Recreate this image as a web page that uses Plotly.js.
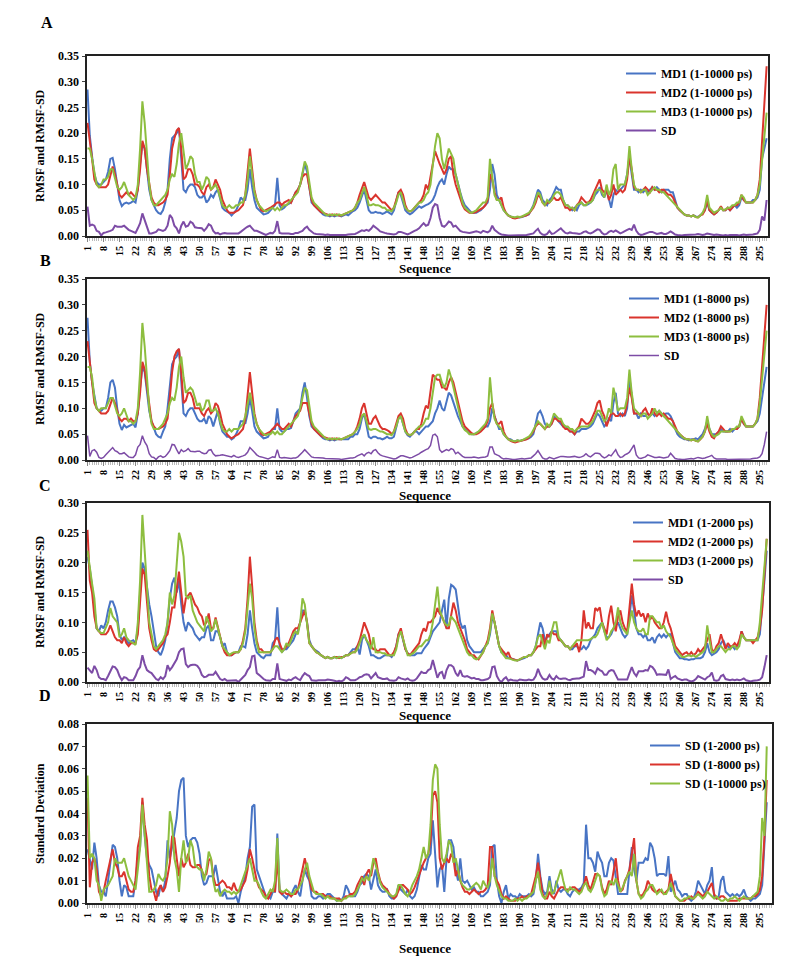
<!DOCTYPE html>
<html><head><meta charset="utf-8">
<script src="https://cdn.plot.ly/plotly-3.0.1.min.js"></script>
<style>html,body{margin:0;padding:0;background:#fff}#chart{width:800px;height:961px}</style>
</head><body><div id="chart"></div>
<script>
const tickLabels = [1,8,15,22,29,36,43,50,57,64,71,78,85,92,99,106,113,120,127,134,141,148,155,162,169,176,183,190,197,204,211,218,225,232,239,246,253,260,267,274,281,288,295];
const residues = Array.from({length:298},(_,i)=>i+1);

// ---------- Panel A (1-10000 ps) ----------
const A_MD1 = [
.285,.195,.155,.12,.105,.10,.10,.105,.11,.125,
.15,.152,.13,.10,.07,.058,.063,.065,.063,.065,
.068,.065,.09,.14,.18,.17,.13,.09,.07,.06,
.05,.045,.043,.05,.065,.09,.15,.19,.195,.20,
.21,.15,.09,.085,.095,.10,.10,.095,.08,.075,
.075,.08,.065,.07,.08,.075,.085,.09,.07,.055,
.05,.048,.045,.04,.045,.05,.06,.075,.07,.07,
.09,.13,.095,.07,.055,.05,.045,.042,.043,.045,
.05,.055,.06,.113,.06,.052,.055,.06,.062,.065,
.075,.085,.09,.10,.12,.14,.125,.09,.065,.06,
.055,.05,.045,.042,.04,.04,.038,.04,.038,.04,
.04,.038,.04,.042,.04,.045,.048,.05,.055,.065,
.08,.09,.07,.05,.045,.045,.047,.045,.045,.043,
.045,.048,.045,.042,.05,.065,.085,.08,.065,.05,
.045,.042,.045,.05,.055,.058,.055,.058,.06,.062,
.065,.07,.08,.095,.105,.11,.10,.12,.135,.13,
.13,.12,.10,.085,.07,.06,.055,.05,.045,.045,
.045,.048,.05,.055,.06,.065,.09,.14,.12,.08,
.07,.06,.05,.045,.04,.038,.036,.035,.037,.036,
.037,.038,.04,.042,.05,.06,.075,.09,.085,.07,
.065,.06,.07,.075,.085,.095,.09,.09,.07,.06,
.06,.055,.05,.055,.05,.06,.065,.06,.06,.062,
.065,.07,.08,.085,.095,.08,.075,.09,.07,.055,
.08,.09,.085,.09,.095,.10,.12,.155,.12,.09,
.09,.085,.09,.085,.09,.085,.09,.095,.09,.095,
.09,.085,.09,.09,.09,.085,.085,.07,.055,.05,
.045,.042,.04,.04,.038,.04,.038,.037,.04,.045,
.05,.065,.05,.045,.042,.045,.05,.055,.05,.05,
.055,.05,.055,.06,.055,.06,.075,.07,.065,.065,
.065,.07,.07,.075,.09,.15,.17,.19];
const A_MD2 = [
.22,.19,.15,.11,.10,.095,.095,.095,.095,.10,
.12,.135,.12,.10,.08,.075,.08,.085,.08,.085,
.08,.075,.09,.13,.185,.17,.13,.10,.075,.065,
.06,.06,.063,.065,.07,.08,.12,.17,.19,.205,
.21,.17,.11,.115,.13,.13,.12,.10,.10,.095,
.085,.08,.095,.10,.09,.095,.11,.10,.09,.07,
.06,.05,.045,.045,.045,.048,.05,.055,.06,.08,
.12,.17,.13,.09,.07,.06,.05,.048,.05,.052,
.055,.058,.062,.065,.065,.06,.065,.068,.07,.065,
.075,.085,.09,.10,.115,.12,.12,.09,.07,.06,
.055,.05,.047,.045,.043,.042,.04,.042,.04,.042,
.04,.04,.042,.043,.045,.048,.05,.055,.065,.08,
.095,.105,.09,.075,.07,.075,.08,.075,.07,.065,
.065,.06,.055,.05,.055,.07,.085,.09,.08,.06,
.05,.048,.05,.055,.06,.065,.07,.08,.10,.09,
.12,.14,.165,.15,.14,.13,.12,.13,.15,.155,
.12,.10,.085,.07,.06,.052,.048,.045,.045,.045,
.047,.05,.052,.055,.06,.07,.12,.11,.085,.07,
.07,.075,.055,.045,.04,.037,.035,.034,.035,.036,
.037,.038,.04,.043,.048,.055,.065,.08,.075,.065,
.06,.065,.065,.07,.075,.07,.07,.075,.065,.055,
.055,.05,.055,.05,.06,.065,.075,.07,.065,.065,
.07,.08,.09,.10,.11,.09,.085,.09,.07,.08,
.10,.08,.085,.09,.085,.09,.11,.155,.13,.095,
.09,.09,.085,.09,.095,.09,.085,.095,.09,.09,
.085,.09,.09,.085,.08,.08,.075,.065,.055,.05,
.045,.042,.04,.04,.038,.04,.037,.036,.04,.042,
.05,.07,.05,.045,.042,.045,.05,.058,.05,.05,
.055,.05,.055,.06,.06,.065,.08,.07,.065,.065,
.065,.065,.07,.08,.11,.18,.25,.33];
const A_MD3 = [
.17,.17,.15,.12,.10,.095,.10,.11,.11,.115,
.13,.13,.115,.095,.09,.095,.105,.09,.08,.075,
.07,.075,.10,.17,.262,.22,.15,.10,.07,.06,
.06,.065,.07,.075,.08,.09,.11,.12,.115,.14,
.18,.20,.17,.13,.14,.155,.15,.12,.105,.105,
.09,.10,.115,.11,.09,.095,.10,.09,.075,.06,
.055,.055,.06,.055,.055,.06,.06,.065,.065,.08,
.11,.155,.12,.085,.07,.06,.055,.05,.048,.05,
.052,.055,.05,.055,.05,.055,.06,.06,.065,.07,
.075,.08,.085,.10,.12,.145,.135,.10,.075,.065,
.06,.055,.05,.045,.042,.04,.042,.04,.042,.04,
.042,.04,.042,.043,.045,.048,.05,.055,.065,.07,
.085,.095,.08,.06,.06,.062,.06,.06,.058,.055,
.055,.05,.05,.048,.055,.065,.08,.085,.07,.055,
.05,.048,.05,.055,.06,.065,.065,.07,.08,.085,
.10,.14,.175,.20,.19,.15,.13,.15,.17,.16,
.15,.12,.10,.08,.065,.055,.05,.047,.045,.048,
.05,.055,.06,.065,.065,.075,.15,.11,.08,.07,
.07,.06,.05,.045,.04,.038,.037,.036,.038,.037,
.038,.04,.042,.045,.05,.058,.07,.085,.08,.065,
.06,.07,.065,.07,.08,.085,.085,.08,.07,.06,
.06,.055,.055,.05,.06,.062,.065,.06,.06,.065,
.065,.07,.085,.09,.09,.085,.075,.10,.08,.09,
.13,.14,.09,.10,.10,.10,.12,.175,.13,.10,
.09,.09,.085,.09,.09,.08,.085,.09,.095,.09,
.09,.085,.085,.08,.075,.07,.065,.06,.055,.05,
.045,.042,.04,.04,.038,.04,.037,.036,.04,.045,
.055,.08,.055,.05,.045,.048,.05,.055,.05,.052,
.055,.055,.06,.06,.065,.065,.08,.075,.065,.065,
.065,.065,.07,.08,.10,.15,.20,.24];

// ---------- Panel B (1-8000 ps) ----------
const B_MD1 = [
.275,.19,.15,.12,.10,.095,.095,.10,.10,.12,
.15,.155,.14,.10,.07,.058,.068,.063,.065,.068,
.07,.063,.09,.14,.18,.17,.13,.095,.075,.06,
.05,.045,.043,.055,.065,.10,.15,.185,.195,.20,
.215,.15,.09,.085,.095,.10,.10,.09,.08,.075,
.075,.08,.07,.085,.08,.065,.08,.095,.07,.055,
.05,.045,.045,.04,.043,.05,.06,.075,.075,.07,
.09,.12,.095,.065,.055,.05,.045,.042,.043,.045,
.055,.06,.06,.10,.06,.055,.055,.06,.06,.062,
.075,.09,.095,.10,.13,.15,.12,.085,.065,.06,
.055,.05,.045,.042,.04,.04,.038,.04,.038,.04,
.04,.04,.04,.04,.04,.045,.045,.05,.05,.06,
.08,.09,.07,.045,.042,.045,.045,.042,.042,.04,
.042,.045,.042,.042,.045,.06,.08,.085,.07,.055,
.048,.045,.05,.055,.055,.05,.055,.06,.065,.065,
.07,.075,.09,.10,.115,.10,.095,.115,.13,.125,
.11,.095,.085,.075,.065,.06,.055,.052,.05,.05,
.052,.055,.058,.06,.065,.065,.075,.10,.085,.07,
.06,.06,.05,.045,.04,.04,.037,.036,.038,.037,
.038,.04,.04,.042,.045,.05,.07,.09,.095,.085,
.07,.065,.065,.07,.085,.08,.075,.07,.065,.065,
.06,.055,.055,.05,.055,.055,.06,.06,.06,.062,
.065,.07,.08,.09,.085,.075,.065,.07,.08,.075,
.11,.13,.09,.085,.09,.085,.10,.16,.12,.09,
.09,.08,.09,.085,.085,.09,.085,.09,.085,.09,
.095,.09,.085,.09,.09,.085,.075,.06,.05,.045,
.042,.04,.04,.038,.04,.04,.042,.04,.045,.05,
.06,.075,.06,.05,.05,.05,.055,.06,.055,.055,
.055,.06,.055,.06,.06,.065,.08,.07,.065,.065,
.065,.065,.07,.075,.09,.12,.15,.18];
const B_MD2 = [
.23,.19,.15,.11,.10,.095,.09,.09,.09,.095,
.11,.12,.11,.095,.08,.075,.08,.08,.075,.08,
.075,.075,.09,.13,.19,.175,.14,.10,.075,.065,
.06,.06,.062,.065,.07,.08,.12,.17,.20,.21,
.215,.17,.11,.115,.13,.13,.12,.10,.10,.10,
.09,.085,.095,.10,.09,.095,.11,.105,.09,.07,
.06,.05,.045,.042,.045,.048,.05,.055,.06,.08,
.12,.17,.13,.09,.07,.06,.05,.048,.05,.052,
.055,.06,.065,.07,.065,.06,.06,.065,.07,.065,
.075,.085,.09,.095,.11,.11,.11,.09,.07,.06,
.055,.05,.047,.045,.043,.042,.04,.042,.04,.042,
.04,.04,.042,.043,.045,.048,.05,.055,.065,.08,
.10,.11,.09,.07,.07,.08,.085,.075,.065,.06,
.06,.058,.055,.05,.055,.07,.085,.09,.08,.06,
.05,.048,.05,.055,.06,.06,.07,.09,.105,.10,
.13,.165,.16,.155,.155,.14,.14,.135,.15,.16,
.15,.13,.11,.09,.075,.065,.06,.055,.052,.05,
.05,.052,.055,.06,.065,.075,.10,.11,.085,.07,
.07,.075,.055,.045,.04,.037,.035,.034,.035,.036,
.037,.038,.04,.043,.048,.055,.065,.07,.07,.065,
.06,.065,.065,.07,.08,.08,.075,.075,.065,.06,
.06,.055,.055,.05,.06,.065,.08,.075,.07,.07,
.075,.085,.095,.11,.115,.095,.085,.065,.08,.09,
.09,.085,.085,.09,.085,.09,.11,.14,.12,.09,
.09,.09,.085,.095,.10,.09,.085,.10,.09,.085,
.09,.085,.09,.085,.08,.08,.075,.065,.055,.05,
.045,.042,.04,.04,.038,.04,.037,.036,.04,.045,
.055,.07,.055,.045,.042,.05,.055,.065,.06,.055,
.055,.055,.06,.06,.06,.065,.08,.07,.065,.065,
.065,.065,.07,.08,.12,.18,.24,.30];
const B_MD3 = [
.18,.18,.16,.12,.10,.095,.10,.10,.10,.11,
.12,.12,.105,.09,.085,.09,.10,.085,.075,.075,
.07,.075,.10,.17,.265,.22,.15,.10,.07,.06,
.06,.06,.065,.07,.08,.09,.11,.12,.115,.14,
.18,.20,.16,.13,.135,.14,.135,.12,.105,.11,
.095,.10,.115,.115,.095,.095,.10,.09,.075,.06,
.055,.055,.06,.055,.06,.06,.06,.065,.07,.085,
.11,.13,.11,.085,.07,.06,.055,.05,.048,.05,
.05,.055,.05,.055,.05,.05,.055,.06,.065,.07,
.075,.08,.085,.10,.12,.14,.135,.10,.075,.065,
.06,.055,.05,.045,.042,.04,.042,.04,.042,.04,
.042,.04,.042,.043,.045,.048,.05,.055,.06,.07,
.085,.09,.075,.06,.058,.06,.06,.058,.055,.055,
.052,.05,.05,.048,.055,.065,.08,.085,.07,.055,
.05,.048,.05,.055,.06,.065,.065,.07,.08,.08,
.10,.13,.16,.165,.165,.15,.14,.15,.175,.16,
.14,.12,.10,.08,.065,.058,.055,.05,.05,.05,
.052,.055,.06,.065,.07,.08,.16,.11,.08,.07,
.065,.06,.05,.045,.04,.038,.037,.036,.038,.037,
.038,.04,.042,.045,.05,.058,.065,.075,.07,.065,
.06,.07,.065,.075,.09,.085,.08,.08,.07,.065,
.065,.06,.06,.055,.06,.062,.065,.065,.065,.065,
.07,.075,.085,.095,.095,.085,.075,.08,.10,.09,
.14,.12,.095,.10,.10,.10,.12,.175,.13,.10,
.095,.09,.085,.09,.09,.08,.085,.09,.10,.09,
.095,.09,.085,.08,.075,.07,.065,.06,.055,.05,
.045,.042,.04,.04,.038,.04,.037,.036,.04,.045,
.055,.085,.06,.05,.045,.048,.05,.055,.055,.055,
.055,.055,.06,.06,.065,.065,.085,.075,.065,.065,
.065,.065,.07,.08,.11,.16,.21,.25];

// ---------- Panel C (1-2000 ps) ----------
const C_MD1 = [
.21,.19,.16,.12,.09,.085,.095,.09,.10,.12,
.135,.135,.125,.11,.08,.07,.075,.07,.065,.068,
.07,.065,.09,.15,.20,.19,.16,.13,.11,.08,
.06,.05,.045,.055,.07,.10,.14,.165,.175,.15,
.17,.13,.10,.085,.10,.095,.09,.08,.075,.07,
.075,.075,.09,.095,.07,.07,.085,.085,.075,.06,
.065,.05,.045,.045,.048,.05,.05,.06,.06,.058,
.08,.12,.09,.065,.05,.045,.042,.04,.045,.045,
.045,.065,.07,.125,.06,.05,.055,.055,.06,.065,
.07,.08,.085,.10,.12,.12,.10,.07,.06,.055,
.052,.05,.045,.042,.04,.042,.04,.04,.042,.04,
.042,.04,.042,.045,.045,.05,.055,.055,.06,.046,
.07,.08,.07,.06,.045,.045,.042,.04,.04,.042,
.045,.045,.045,.042,.048,.06,.08,.085,.07,.055,
.048,.045,.045,.045,.048,.048,.048,.055,.06,.065,
.075,.085,.09,.095,.10,.12,.138,.09,.14,.163,
.16,.155,.13,.10,.09,.095,.07,.06,.055,.05,
.05,.05,.05,.055,.06,.065,.08,.11,.10,.08,
.06,.05,.05,.045,.04,.04,.038,.037,.036,.037,
.038,.04,.042,.045,.045,.05,.06,.08,.10,.09,
.07,.075,.08,.085,.085,.085,.075,.07,.065,.06,
.06,.055,.055,.06,.06,.055,.055,.06,.055,.06,
.07,.075,.08,.09,.095,.10,.085,.075,.075,.08,
.09,.095,.10,.09,.08,.075,.08,.11,.145,.12,
.09,.08,.08,.075,.08,.07,.07,.075,.065,.075,
.08,.075,.08,.075,.08,.08,.065,.05,.045,.04,
.04,.038,.038,.037,.038,.038,.04,.04,.04,.042,
.05,.065,.05,.045,.048,.05,.055,.065,.07,.06,
.06,.055,.06,.055,.06,.065,.085,.075,.07,.07,
.07,.07,.07,.07,.08,.12,.17,.22];
const C_MD2 = [
.255,.17,.15,.11,.09,.085,.08,.08,.08,.085,
.095,.085,.075,.07,.07,.065,.075,.065,.06,.065,
.065,.065,.08,.13,.19,.18,.13,.09,.07,.055,
.052,.055,.06,.065,.075,.08,.10,.125,.125,.16,
.185,.15,.115,.14,.145,.15,.14,.13,.125,.115,
.11,.095,.10,.115,.09,.09,.108,.09,.075,.06,
.05,.045,.045,.045,.048,.05,.05,.055,.07,.09,
.14,.21,.16,.10,.07,.055,.055,.05,.05,.05,
.05,.055,.07,.075,.065,.055,.055,.06,.065,.075,
.085,.09,.09,.10,.11,.12,.10,.065,.06,.055,
.05,.048,.045,.042,.04,.042,.04,.04,.042,.042,
.04,.042,.042,.045,.045,.048,.05,.05,.06,.07,
.085,.10,.09,.08,.06,.055,.055,.05,.055,.055,
.055,.05,.045,.045,.05,.06,.08,.09,.075,.055,
.048,.045,.05,.055,.06,.065,.08,.09,.085,.10,
.10,.105,.11,.124,.115,.11,.10,.09,.09,.11,
.133,.12,.10,.09,.08,.07,.055,.05,.045,.045,
.04,.038,.045,.05,.06,.07,.09,.12,.10,.08,
.06,.055,.05,.045,.05,.04,.038,.037,.036,.038,
.04,.042,.042,.045,.045,.05,.055,.06,.06,.08,
.06,.08,.075,.085,.08,.08,.07,.07,.065,.06,
.06,.055,.06,.06,.065,.05,.07,.12,.09,.10,
.09,.09,.124,.12,.125,.10,.09,.08,.11,.128,
.10,.085,.11,.12,.10,.09,.085,.12,.165,.13,
.11,.12,.11,.115,.10,.115,.105,.11,.10,.095,
.09,.09,.10,.118,.10,.09,.075,.06,.055,.05,
.045,.048,.05,.045,.05,.045,.048,.055,.05,.055,
.06,.07,.08,.055,.05,.06,.065,.08,.065,.055,
.065,.06,.06,.065,.06,.07,.085,.075,.07,.07,
.07,.065,.07,.075,.09,.12,.18,.24];
const C_MD3 = [
.22,.19,.165,.14,.09,.085,.082,.082,.09,.10,
.124,.11,.105,.10,.075,.08,.09,.075,.07,.068,
.065,.062,.10,.17,.28,.22,.15,.10,.08,.06,
.055,.06,.065,.07,.08,.10,.15,.13,.145,.20,
.25,.235,.21,.145,.14,.145,.12,.11,.10,.095,
.09,.085,.11,.10,.085,.09,.105,.09,.075,.06,
.055,.05,.045,.048,.05,.05,.05,.055,.065,.085,
.12,.165,.14,.09,.065,.05,.05,.05,.05,.05,
.05,.055,.06,.06,.055,.05,.055,.065,.06,.07,
.08,.085,.08,.10,.14,.13,.10,.065,.06,.055,
.05,.048,.045,.042,.04,.042,.04,.04,.042,.04,
.042,.04,.042,.045,.045,.048,.05,.05,.055,.065,
.075,.08,.07,.065,.055,.075,.05,.05,.05,.048,
.048,.045,.045,.045,.045,.055,.075,.085,.07,.055,
.045,.045,.048,.05,.055,.06,.06,.065,.07,.07,
.08,.10,.13,.16,.12,.11,.10,.095,.095,.11,
.105,.10,.09,.08,.07,.06,.05,.045,.045,.04,
.038,.04,.045,.05,.06,.065,.085,.115,.10,.08,
.06,.05,.045,.04,.04,.038,.037,.036,.036,.038,
.04,.042,.042,.045,.045,.05,.06,.075,.08,.065,
.055,.07,.065,.085,.10,.10,.075,.07,.065,.06,
.06,.055,.06,.065,.07,.07,.07,.07,.07,.07,
.072,.075,.075,.08,.09,.10,.085,.07,.075,.085,
.09,.10,.125,.10,.09,.085,.08,.10,.12,.10,
.09,.085,.085,.09,.08,.08,.11,.11,.105,.10,
.10,.09,.095,.085,.08,.075,.065,.055,.05,.045,
.042,.042,.044,.045,.043,.045,.042,.045,.048,.05,
.055,.095,.07,.05,.05,.055,.06,.06,.055,.05,
.055,.055,.06,.06,.055,.06,.08,.075,.07,.07,
.07,.07,.07,.07,.10,.15,.20,.24];

// ---------- Standard deviations (shared by SD lines in A-C and panel D) ----------
const SD_10000 = [
.057,.020,.022,.020,.010,.008,.001,.006,.007,.008,
.010,.012,.020,.018,.018,.018,.020,.016,.012,.010,
.008,.006,.015,.025,.044,.030,.020,.005,.005,.006,
.008,.013,.011,.010,.012,.020,.041,.035,.020,.015,
.005,.020,.028,.018,.020,.028,.025,.017,.016,.015,
.015,.010,.015,.023,.020,.010,.005,.006,.003,.005,
.006,.005,.005,.004,.005,.004,.005,.008,.012,.015,
.018,.020,.015,.010,.010,.008,.005,.003,.002,.004,
.006,.005,.010,.029,.006,.005,.005,.006,.005,.004,
.004,.006,.006,.008,.010,.015,.018,.012,.008,.005,
.004,.004,.004,.003,.002,.003,.002,.002,.002,.001,
.001,.001,.002,.002,.003,.003,.003,.004,.006,.008,
.011,.010,.012,.010,.014,.020,.017,.013,.009,.007,
.006,.005,.004,.003,.003,.004,.008,.008,.006,.004,
.003,.005,.008,.010,.012,.015,.020,.025,.020,.022,
.035,.055,.062,.060,.035,.020,.018,.022,.028,.026,
.018,.020,.015,.010,.008,.007,.006,.006,.007,.008,
.009,.008,.006,.010,.008,.007,.010,.020,.012,.008,
.005,.003,.002,.002,.001,.001,.001,.002,.001,.002,
.001,.002,.002,.003,.004,.005,.010,.014,.006,.003,
.002,.004,.010,.004,.005,.008,.012,.015,.010,.006,
.005,.007,.006,.006,.005,.004,.005,.008,.009,.006,
.005,.007,.010,.013,.012,.006,.003,.004,.008,.010,
.008,.011,.008,.005,.007,.010,.012,.014,.012,.022,
.010,.004,.002,.003,.005,.006,.008,.008,.006,.004,
.005,.006,.004,.004,.006,.009,.006,.003,.002,.001,
.001,.002,.002,.003,.002,.002,.003,.004,.003,.002,
.003,.005,.004,.003,.002,.003,.002,.001,.001,.002,
.001,.002,.002,.003,.002,.001,.002,.003,.002,.002,
.002,.003,.004,.005,.012,.038,.030,.070];
const SD_8000 = [
.047,.007,.018,.020,.015,.005,.003,.005,.010,.015,
.020,.024,.018,.016,.012,.012,.014,.010,.006,.005,
.005,.010,.025,.030,.047,.035,.028,.012,.006,.005,
.001,.006,.008,.005,.007,.012,.018,.030,.029,.020,
.012,.020,.016,.018,.022,.017,.016,.016,.017,.017,
.014,.012,.013,.019,.020,.012,.008,.008,.009,.010,
.009,.007,.007,.006,.009,.006,.005,.006,.008,.010,
.015,.024,.020,.015,.010,.007,.006,.005,.003,.002,
.004,.006,.005,.020,.005,.004,.005,.004,.004,.003,
.004,.004,.006,.010,.015,.020,.015,.010,.006,.005,
.005,.004,.004,.004,.003,.003,.003,.002,.002,.002,
.002,.001,.002,.003,.003,.004,.004,.005,.008,.010,
.012,.008,.013,.015,.012,.018,.020,.014,.010,.008,
.007,.006,.004,.003,.002,.003,.006,.008,.008,.007,
.006,.004,.005,.007,.010,.012,.015,.018,.020,.022,
.028,.048,.050,.045,.020,.015,.018,.020,.018,.022,
.020,.012,.015,.010,.007,.005,.005,.004,.005,.006,
.005,.004,.005,.005,.006,.008,.025,.025,.012,.010,
.008,.004,.002,.003,.002,.001,.001,.001,.002,.002,
.003,.002,.003,.003,.004,.008,.012,.018,.010,.004,
.002,.002,.005,.003,.002,.004,.006,.007,.007,.006,
.006,.006,.007,.007,.006,.005,.006,.008,.012,.008,
.006,.010,.013,.013,.012,.007,.004,.006,.010,.008,
.015,.020,.010,.005,.006,.010,.012,.015,.022,.029,
.010,.004,.003,.004,.006,.010,.008,.006,.005,.005,
.006,.005,.004,.005,.006,.013,.008,.003,.002,.001,
.001,.001,.002,.002,.003,.002,.003,.005,.004,.003,
.004,.005,.007,.009,.004,.002,.002,.003,.003,.002,
.001,.001,.001,.001,.001,.002,.002,.002,.002,.002,
.002,.003,.003,.004,.006,.012,.030,.055];
const SD_2000 = [
.024,.020,.015,.027,.020,.008,.005,.005,.003,.010,
.018,.026,.025,.020,.010,.003,.008,.007,.003,.003,
.003,.010,.020,.025,.045,.030,.020,.017,.015,.010,
.005,.003,.008,.005,.010,.028,.020,.025,.032,.038,
.050,.055,.056,.030,.025,.028,.029,.029,.027,.022,
.012,.008,.009,.012,.012,.012,.017,.010,.005,.003,
.005,.002,.002,.002,.002,.003,.000,.005,.008,.012,
.020,.025,.043,.044,.015,.012,.008,.005,.003,.003,
.002,.005,.005,.031,.005,.004,.003,.002,.004,.003,
.006,.008,.005,.003,.010,.015,.012,.010,.003,.002,
.002,.003,.003,.002,.003,.004,.004,.003,.002,.001,
.002,.001,.003,.008,.006,.003,.003,.003,.005,.008,
.009,.012,.013,.012,.006,.010,.015,.008,.006,.005,
.005,.006,.003,.002,.002,.003,.008,.006,.005,.004,
.006,.003,.002,.003,.006,.012,.017,.015,.015,.020,
.022,.037,.020,.007,.015,.017,.005,.020,.028,.028,
.025,.015,.010,.020,.010,.009,.010,.008,.006,.007,
.005,.005,.003,.003,.004,.005,.008,.025,.026,.010,
.003,.000,.005,.008,.002,.004,.003,.003,.002,.004,
.003,.003,.003,.004,.003,.004,.010,.022,.012,.006,
.004,.005,.012,.006,.004,.010,.006,.005,.006,.006,
.004,.003,.005,.006,.006,.006,.007,.009,.035,.020,
.020,.018,.014,.023,.020,.018,.012,.012,.018,.020,
.019,.012,.004,.004,.004,.004,.004,.015,.025,.015,
.010,.018,.018,.018,.020,.019,.027,.025,.020,.012,
.013,.013,.013,.012,.021,.005,.008,.010,.006,.005,
.003,.004,.004,.002,.001,.002,.005,.010,.008,.006,
.004,.008,.010,.016,.003,.002,.003,.010,.012,.005,
.004,.003,.004,.003,.004,.003,.004,.006,.003,.002,
.001,.002,.002,.003,.004,.008,.025,.045];

const seriesNamesA = ['MD1 (1-10000 ps)','MD2 (1-10000 ps)','MD3 (1-10000 ps)','SD'];
const seriesNamesB = ['MD1 (1-8000 ps)','MD2 (1-8000 ps)','MD3 (1-8000 ps)','SD'];
const seriesNamesC = ['MD1 (1-2000 ps)','MD2 (1-2000 ps)','MD3 (1-2000 ps)','SD'];
const seriesNamesD = ['SD (1-2000 ps)','SD (1-8000 ps)','SD (1-10000 ps)'];

const BLUE='#4874C4', RED='#DA342D', GREEN='#8DBE3F', PURPLE='#7D4CA6';
const FONT='"Liberation Serif", "Times New Roman", serif';

const traces=[];
function add(y, name, color, ax, leg, w){
  traces.push({x:residues, y:y, name:name, type:'scatter', mode:'lines',
    line:{color:color, width:w||2}, xaxis:'x'+ax, yaxis:'y'+ax, legend:leg, hoverinfo:'skip'});
}
add(A_MD1, seriesNamesA[0], BLUE, '', 'legend');
add(A_MD2, seriesNamesA[1], RED, '', 'legend');
add(A_MD3, seriesNamesA[2], GREEN, '', 'legend');
add(SD_10000, seriesNamesA[3], PURPLE, '', 'legend');
add(B_MD1, seriesNamesB[0], BLUE, '2', 'legend2');
add(B_MD2, seriesNamesB[1], RED, '2', 'legend2');
add(B_MD3, seriesNamesB[2], GREEN, '2', 'legend2');
add(SD_8000, seriesNamesB[3], PURPLE, '2', 'legend2', 1.5);
add(C_MD1, seriesNamesC[0], BLUE, '3', 'legend3');
add(C_MD2, seriesNamesC[1], RED, '3', 'legend3');
add(C_MD3, seriesNamesC[2], GREEN, '3', 'legend3');
add(SD_2000, seriesNamesC[3], PURPLE, '3', 'legend3');
add(SD_2000, seriesNamesD[0], BLUE, '4', 'legend4');
add(SD_8000, seriesNamesD[1], RED, '4', 'legend4');
add(SD_10000, seriesNamesD[2], GREEN, '4', 'legend4');

const H=961, W=800;
const py = v => 1 - v/H;
const px = v => v/W;

function xAxis(anchor, right, r1){
  return {domain:[px(86.5), px(right)], range:[0.56, r1], anchor:anchor,
    tickmode:'array', tickvals:tickLabels, ticktext:tickLabels.map(String), tickangle:-90,
    tickfont:{family:FONT, size:10, weight:'bold', color:'#000'},
    ticks:'outside', ticklen:4, tickcolor:'#888', tickwidth:1,
    minor:{tickmode:'linear', tick0:1, dtick:1, ticks:'outside', ticklen:3, tickcolor:'#bbb', tickwidth:1},
    showline:true, linecolor:'#222', linewidth:2, mirror:true, showgrid:false, zeroline:false};
}
function yAxis(anchor, top, bottom, maxv, dt){
  return {domain:[py(bottom), py(top)], range:[0, maxv], anchor:anchor, tick0:0, dtick:dt, tickformat:'.2f',
    tickfont:{family:FONT, size:12, weight:'bold', color:'#000'},
    ticks:'outside', ticklen:3, tickcolor:'#444',
    showline:true, linecolor:'#222', linewidth:2, mirror:true, showgrid:false, zeroline:false};
}
function legend(x, ytop){
  return {x:px(x), y:py(ytop), xanchor:'left', yanchor:'top', bgcolor:'rgba(0,0,0,0)',
    font:{family:FONT, size:12, weight:'bold', color:'#000'}, tracegroupgap:0, itemwidth:30};
}
const ann=[];
function text(t, x, y, size, angle){
  ann.push({text:'<b>'+t+'</b>', x:px(x), y:py(y), xref:'paper', yref:'paper', showarrow:false,
    xanchor:'center', yanchor:'middle', textangle:angle||0, font:{family:FONT, size:size, color:'#000'}});
}
text('A', 47, 22, 16); text('B', 45, 260, 16); text('C', 45, 485, 16); text('D', 45, 695, 16);
text('Sequence', 425, 269, 13); text('Sequence', 425, 495, 13); text('Sequence', 425, 715, 13); text('Sequence', 425, 948, 13);
text('RMSF and RMSF-SD', 40, 146, 12, -90);
text('RMSF and RMSF-SD', 40, 369, 12, -90);
text('RMSF and RMSF-SD', 40, 592, 12, -90);
text('Standard Deviation', 40, 814, 12, -90);

const layout = {
  width:W, height:H, margin:{l:0,r:0,t:0,b:0}, paper_bgcolor:'#fff', plot_bgcolor:'#fff',
  showlegend:true,
  xaxis: xAxis('y', 768, 298.6),
  yaxis: yAxis('x', 56, 236, 0.35, 0.05),
  xaxis2: xAxis('y2', 768, 298.6),
  yaxis2: yAxis('x2', 279, 460, 0.35, 0.05),
  xaxis3: xAxis('y3', 769, 299),
  yaxis3: yAxis('x3', 503, 682, 0.30, 0.05),
  xaxis4: xAxis('y4', 772, 300.3),
  yaxis4: yAxis('x4', 724, 903, 0.08, 0.01),
  legend: legend(621, 59),
  legend2: legend(624, 284),
  legend3: legend(628, 508),
  legend4: legend(645, 731),
  annotations: ann
};
Plotly.newPlot('chart', traces, layout, {displayModeBar:false, staticPlot:true});
</script></body></html>
